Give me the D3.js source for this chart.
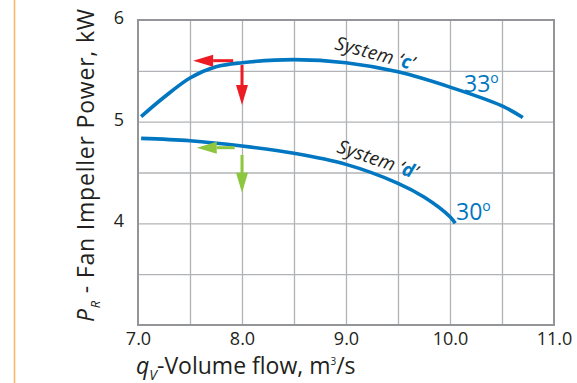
<!DOCTYPE html>
<html>
<head>
<meta charset="utf-8"/>
<script src="https://cdn.jsdelivr.net/npm/d3@7"></script>
<style>
  body { margin: 0; background: #fff; }
  text { font-family: "Open Sans", sans-serif; fill: #231f20; }
  .grid line { stroke: #b1b3b6; stroke-width: 1.3; }
  .grid path { display: none; }
  .tick-lbl { font-size: 18px; }
</style>
</head>
<body>
<div id="chart"></div>
<script>
// values
var xTicks = [7.0, 8.0, 9.0, 10.0, 11.0];
var yTicks = [4, 5, 6];
var gridX = [7.5, 8.0, 8.5, 9.0, 9.5, 10.0, 10.5];
var gridY = [3.5, 4.0, 4.5, 5.0, 5.5];

var flowC  = [7.03, 7.25, 7.5, 7.75, 8.0, 8.5, 9.0, 9.5, 10.0, 10.5, 10.7];
var powerC = [5.05, 5.24, 5.43, 5.54, 5.58, 5.61, 5.58, 5.49, 5.34, 5.155, 5.04];
var flowD  = [7.03, 7.5, 8.0, 8.5, 9.0, 9.5, 9.75, 10.0, 10.05];
var powerD = [4.836, 4.813, 4.761, 4.689, 4.58, 4.394, 4.259, 4.065, 4.0];

// arrows: [x1, y1, x2 (tip), y2 (tip)]
var arrowsRed   = [[7.915, 5.60, 7.53, 5.60], [8.0, 5.557, 8.0, 5.164]];
var arrowsGreen = [[7.93, 4.744, 7.565, 4.744], [8.0, 4.672, 8.0, 4.30]];

var w = 577, h = 383;
var svg = d3.select("#chart").append("svg").attr("width", w).attr("height", h);

var x = d3.scaleLinear().domain([7, 11]).range([138, 554]);
var y = d3.scaleLinear().domain([3, 6]).range([325, 20]);

// orange margin line
svg.append("line").attr("x1", 14.5).attr("x2", 14.5).attr("y1", 0).attr("y2", h)
   .attr("stroke", "#fbb966").attr("stroke-width", 1.6);

// grid
svg.append("g").attr("class", "grid")
   .attr("transform", "translate(0,325)")
   .call(d3.axisBottom(x).tickValues(gridX).tickSize(-305).tickFormat(""));
svg.append("g").attr("class", "grid")
   .attr("transform", "translate(138,0)")
   .call(d3.axisLeft(y).tickValues(gridY).tickSize(-416).tickFormat(""));

// frame
svg.append("rect").attr("x", x(7)).attr("y", y(6))
   .attr("width", x(11) - x(7)).attr("height", y(3) - y(6))
   .attr("fill", "none").attr("stroke", "#939598").attr("stroke-width", 2);

// tick labels
var xa = svg.append("g").attr("transform", "translate(0,325)")
   .call(d3.axisBottom(x).tickValues(xTicks).tickSize(0).tickPadding(20).tickFormat(d3.format(".1f")));
xa.select(".domain").remove();
xa.selectAll("text").attr("class", "tick-lbl").attr("fill", "#231f20").attr("dy", 0);

var ya = svg.append("g").attr("transform", "translate(138,0)")
   .call(d3.axisLeft(y).tickValues(yTicks).tickSize(0).tickPadding(14).tickFormat(d3.format("d")));
ya.select(".domain").remove();
ya.selectAll("text").attr("class", "tick-lbl").attr("fill", "#231f20").attr("dy", "0.2em");

// curves
var line = d3.line().x(function(d) { return x(d[0]); }).y(function(d) { return y(d[1]); })
   .curve(d3.curveCatmullRom.alpha(0.5));
[[flowC, powerC], [flowD, powerD]].forEach(function(s) {
  svg.append("path").datum(d3.zip(s[0], s[1]))
     .attr("d", line).attr("fill", "none")
     .attr("stroke", "#0077c0").attr("stroke-width", 3.6);
});

// arrows
function drawArrow(a, col) {
  var x1 = x(a[0]), y1 = y(a[1]), x2 = x(a[2]), y2 = y(a[3]);
  var len = Math.hypot(x2 - x1, y2 - y1), ux = (x2 - x1) / len, uy = (y2 - y1) / len;
  var hl = 20, hw = 6;
  var bx = x2 - ux * hl, by = y2 - uy * hl;
  svg.append("line").attr("x1", x1).attr("y1", y1).attr("x2", bx).attr("y2", by)
     .attr("stroke", col).attr("stroke-width", 3);
  svg.append("path")
     .attr("d", "M" + x2 + "," + y2 + "L" + (bx - uy * hw) + "," + (by + ux * hw) +
                "L" + (bx + uy * hw) + "," + (by - ux * hw) + "Z")
     .attr("fill", col);
}
arrowsRed.forEach(function(a) { drawArrow(a, "#ed1c24"); });
arrowsGreen.forEach(function(a) { drawArrow(a, "#8dc63f"); });

// curve labels
function sysLabel(px, py, ang, letter) {
  var t = svg.append("text").attr("transform", "translate(" + px + "," + py + ") rotate(" + ang + ")")
     .attr("font-size", 19).attr("font-style", "italic").attr("letter-spacing", 0.2);
  t.append("tspan").text("System \u2018");
  t.append("tspan").text(letter).attr("font-weight", "bold").style("fill", "#0077c0");
  t.append("tspan").text("\u2019");
}
sysLabel(334, 49, 15, "c");
sysLabel(336, 152, 19, "d");

function degLabel(px, py, txt) {
  var t = svg.append("text").attr("x", px).attr("y", py).attr("font-size", 23);
  t.append("tspan").text(txt).style("fill", "#0077c0");
  t.append("tspan").text("o").attr("font-size", 14).attr("dy", -9).style("fill", "#0077c0");
}
degLabel(464, 92, "33");
degLabel(456, 220, "30");

// axis titles
var yt = svg.append("text").attr("transform", "translate(94,322) rotate(-90)")
   .attr("font-size", 23).attr("letter-spacing", 0.8);
yt.append("tspan").text("P").attr("font-style", "italic");
yt.append("tspan").text("R").attr("font-style", "italic").attr("font-size", 13).attr("dy", 6);
yt.append("tspan").text(" - Fan Impeller Power, kW").attr("dy", -6);

var xt = svg.append("text").attr("x", 136).attr("y", 374).attr("font-size", 23);
xt.append("tspan").text("q").attr("font-style", "italic");
xt.append("tspan").text("V").attr("font-style", "italic").attr("font-size", 14).attr("dy", 6);
xt.append("tspan").text("-Volume flow, m").attr("dy", -6);
xt.append("tspan").text("3").attr("font-size", 10).attr("dy", -9);
xt.append("tspan").text("/s").attr("dy", 9);
</script>
</body>
</html>
